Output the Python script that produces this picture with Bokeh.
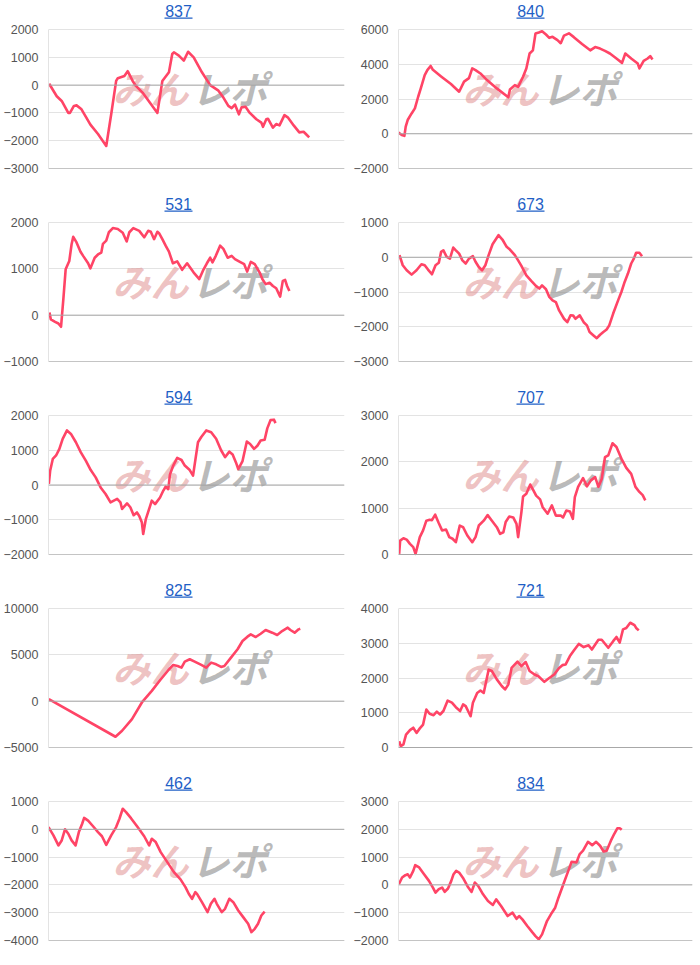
from bokeh.plotting import figure
from bokeh.layouts import gridplot
from bokeh.models import Range1d, FixedTicker, Span, Label, BoxAnnotation
from bokeh.embed import file_html
from bokeh.resources import INLINE

# ---------------- data (x = play position, y = difference in medals) ----------------
titles = ["837", "840", "531", "673", "594", "707", "825", "721", "462", "834"]

x_837 = [2, 25, 40, 60, 65, 77, 85, 100, 127, 150, 175, 190, 205, 210, 230, 240, 255, 265, 285, 330,
         345, 365, 375, 380, 395, 410, 423, 440, 465, 490, 515, 530, 545, 555, 565, 577, 585, 597, 610,
         630, 645, 650, 660, 665, 680, 690, 700, 715, 725, 743, 760, 773, 780, 790]
y_837 = [50, -400, -570, -1000, -1000, -750, -730, -870, -1420, -1760, -2190, -1050, 150, 250, 330, 500,
         150, -30, -270, -1000, 150, 460, 1120, 1180, 1060, 880, 1200, 1000, 460, 0, -200, -450, -750,
         -830, -700, -1050, -800, -780, -1000, -1230, -1350, -1500, -1230, -1210, -1530, -1400, -1450,
         -1080, -1160, -1450, -1700, -1680, -1760, -1880]

x_840 = [0, 10, 18, 22, 28, 40, 50, 60, 68, 80, 88, 98, 105, 130, 160, 185, 200, 215, 225, 235, 250,
         270, 300, 335, 340, 355, 365, 380, 390, 400, 410, 418, 428, 438, 450, 460, 470, 485, 495, 505,
         520, 535, 560, 585, 600, 615, 630, 645, 665, 682, 692, 710, 730, 735, 748, 760, 768, 775]
y_840 = [70, -70, -120, 410, 790, 1170, 1460, 2130, 2610, 3380, 3660, 3900, 3680, 3300, 2860, 2420,
         3000, 3200, 3760, 3660, 3470, 3090, 2610, 2100, 2550, 2800, 2700, 3280, 3760, 4620, 4800, 5770,
         5830, 5900, 5710, 5520, 5580, 5390, 5210, 5650, 5780, 5560, 5170, 4800, 4990, 4900, 4770, 4620,
         4330, 4080, 4620, 4330, 4040, 3760, 4190, 4330, 4470, 4280]

x_531 = [3, 7, 20, 30, 38, 45, 52, 63, 70, 75, 85, 97, 105, 120, 127, 140, 150, 160, 165, 175, 183,
         195, 210, 225, 237, 245, 257, 275, 290, 302, 310, 320, 330, 335, 345, 355, 365, 377, 390, 405,
         420, 440, 457, 468, 480, 490, 497, 507, 520, 530, 543, 555, 565, 580, 593, 602, 613, 625, 640,
         648, 658, 670, 680, 690, 702, 710, 717, 723, 730]
y_531 = [60, -90, -145, -180, -250, 345, 990, 1170, 1530, 1690, 1570, 1370, 1280, 1120, 1010, 1240,
         1310, 1350, 1540, 1610, 1790, 1880, 1860, 1780, 1590, 1790, 1880, 1820, 1680, 1820, 1800, 1640,
         1800, 1770, 1640, 1500, 1370, 1120, 1160, 980, 1120, 920, 780, 960, 1120, 1240, 1140, 1280,
         1500, 1430, 1240, 1280, 1210, 1150, 1100, 940, 1150, 1100, 920, 780, 670, 700, 630, 580, 400,
         740, 760, 630, 520]

x_673 = [3, 13, 25, 40, 55, 70, 80, 90, 102, 113, 123, 130, 137, 147, 157, 167, 175, 185, 195, 205,
         215, 227, 235, 245, 255, 265, 275, 287, 295, 305, 317, 330, 340, 355, 365, 375, 390, 405, 420,
         430, 438, 450, 460, 470, 480, 490, 505, 515, 525, 533, 540, 553, 565, 575, 583, 595, 605, 615,
         625, 635, 643, 655, 670, 680, 690, 700, 710, 718, 725, 735, 743]
y_673 = [60, -230, -375, -500, -375, -200, -230, -355, -490, -230, -160, 155, 200, 10, -40, 280, 200,
         105, -90, -180, -40, 30, -130, -280, -375, -230, 60, 375, 490, 635, 510, 300, 220, 60, -90,
         -250, -520, -680, -830, -900, -810, -920, -1140, -1240, -1290, -1530, -1770, -1870, -1670,
         -1680, -1770, -1670, -1870, -1960, -2150, -2250, -2330, -2230, -2150, -2080, -1960, -1620,
         -1240, -1000, -710, -470, -180, -40, 130, 130, 30]

x_594 = [1, 5, 13, 23, 33, 43, 56, 68, 83, 98, 113, 128, 143, 158, 173, 188, 198, 208, 218, 223, 238,
         248, 258, 268, 275, 283, 287, 295, 308, 313, 323, 338, 348, 355, 363, 368, 378, 390, 403, 413,
         428, 438, 453, 463, 478, 493, 508, 523, 535, 548, 558, 568, 575, 588, 601, 611, 623, 633, 643,
         655, 663, 673, 683, 688]
y_594 = [30, 410, 750, 850, 1040, 1330, 1570, 1470, 1230, 940, 700, 430, 220, -70, -260, -500, -450,
         -400, -500, -690, -530, -640, -870, -790, -890, -1080, -1410, -980, -600, -450, -550, -360,
         -160, -50, -120, 300, 560, 780, 720, 560, 430, 270, 1230, 1380, 1570, 1520, 1330, 1000, 800,
         960, 880, 650, 460, 690, 1250, 1180, 1040, 1130, 1280, 1300, 1630, 1870, 1880, 1780]

x_707 = [2, 5, 15, 25, 35, 45, 52, 65, 75, 85, 95, 102, 112, 122, 133, 145, 155, 165, 175, 187, 197,
         210, 225, 235, 245, 260, 272, 285, 300, 310, 320, 327, 338, 350, 360, 365, 375, 380, 390, 402,
         412, 420, 432, 440, 455, 468, 480, 495, 502, 512, 523, 532, 538, 548, 563, 575, 587, 600, 610,
         620, 630, 640, 653, 665, 680, 695, 710, 723, 735, 745, 753]
y_707 = [15, 300, 350, 320, 230, 160, 15, 375, 520, 730, 750, 740, 860, 690, 520, 540, 375, 340, 265,
         625, 590, 410, 265, 375, 625, 730, 850, 730, 590, 445, 480, 700, 820, 800, 660, 375, 915, 1250,
         1310, 1510, 1380, 1270, 1190, 1020, 880, 1060, 840, 840, 800, 950, 930, 770, 1240, 1460, 1650,
         1470, 1600, 1670, 1460, 1630, 2100, 2140, 2400, 2320, 2070, 1870, 1740, 1460, 1350, 1280, 1170]

x_825 = [1, 203, 223, 253, 283, 313, 338, 363, 378, 391, 403, 413, 428, 443, 463, 478, 493, 508, 523,
         533, 553, 573, 588, 603, 613, 628, 643, 658, 678, 693, 708, 725, 733, 746, 758, 763]
y_825 = [210, -3840, -3190, -1940, -140, 1110, 2260, 3340, 3910, 3800, 3620, 4270, 4520, 4270, 3910,
         3620, 4160, 3980, 3700, 3800, 4700, 5600, 6490, 6960, 7210, 6920, 7280, 7680, 7390, 7140, 7570,
         7930, 7680, 7390, 7750, 7820]

x_721 = [2, 7, 15, 23, 35, 45, 55, 65, 75, 85, 95, 107, 117, 127, 137, 150, 163, 175, 188, 197, 205,
         220, 227, 240, 250, 260, 275, 285, 300, 315, 325, 335, 345, 363, 375, 388, 400, 415, 427, 445,
         460, 475, 490, 500, 510, 523, 535, 550, 565, 580, 590, 610, 620, 640, 655, 665, 675, 685, 695,
         707, 720, 725, 733]
y_721 = [180, 40, 90, 370, 500, 570, 420, 550, 660, 1090, 970, 930, 1030, 950, 1050, 1350, 1290, 1160,
         1050, 1240, 1190, 900, 1290, 1570, 1640, 1570, 2240, 2200, 1960, 1770, 1670, 1810, 2290, 2470,
         2340, 2460, 2200, 2100, 2050, 1890, 2000, 2100, 2290, 2370, 2390, 2630, 2790, 2980, 2890, 2940,
         2820, 3100, 3100, 2870, 3060, 3180, 3020, 3400, 3440, 3590, 3520, 3440, 3370]

x_462 = [0, 15, 30, 40, 50, 60, 70, 82, 92, 102, 108, 120, 135, 150, 162, 175, 190, 205, 215, 225, 235,
         250, 270, 290, 305, 313, 325, 340, 360, 380, 400, 415, 425, 435, 445, 450, 465, 482, 492, 503,
         510, 525, 535, 548, 560, 575, 590, 605, 615, 625, 635, 645, 655]
y_462 = [80, -220, -580, -400, 0, -160, -400, -580, -100, 200, 410, 310, 110, -100, -250, -560, -220, 80,
         380, 740, 620, 400, 80, -250, -580, -340, -460, -820, -1180, -1540, -1800, -2080, -2320, -2500,
         -2260, -2320, -2620, -2980, -2680, -2500, -2680, -2980, -2860, -2500, -2620, -2920, -3160, -3400,
         -3700, -3580, -3400, -3100, -2960]

x_834 = [1, 11, 21, 28, 35, 45, 51, 63, 78, 93, 105, 113, 123, 133, 141, 151, 161, 168, 176, 185, 198,
         213, 223, 233, 243, 258, 273, 288, 298, 313, 323, 333, 348, 360, 368, 378, 393, 408, 418, 428,
         438, 453, 468, 478, 488, 503, 518, 528, 543, 553, 563, 578, 591, 603, 615, 626, 635, 648, 658,
         668, 675, 681]
y_834 = [25, 265, 350, 380, 265, 505, 710, 630, 385, 145, -95, -280, -155, -95, -250, -130, 145, 385,
         505, 445, 230, -95, -250, 85, -35, -340, -580, -720, -520, -760, -940, -1120, -1000, -1220,
         -1120, -1240, -1480, -1700, -1840, -1960, -1780, -1300, -1000, -820, -460, 25, 505, 830, 810,
         1110, 1230, 1550, 1430, 1550, 1410, 1200, 1230, 1590, 1830, 2040, 2040, 1980]

xs = [x_837, x_840, x_531, x_673, x_594, x_707, x_825, x_721, x_462, x_834]
ys = [y_837, y_840, y_531, y_673, y_594, y_707, y_825, y_721, y_462, y_834]

# y-axis tick labels per chart
ticks = [
    [-3000, -2000, -1000, 0, 1000, 2000],
    [-2000, 0, 2000, 4000, 6000],
    [-1000, 0, 1000, 2000],
    [-3000, -2000, -1000, 0, 1000],
    [-2000, -1000, 0, 1000, 2000],
    [0, 1000, 2000, 3000],
    [-5000, 0, 5000, 10000],
    [0, 1000, 2000, 3000, 4000],
    [-4000, -3000, -2000, -1000, 0, 1000],
    [-2000, -1000, 0, 1000, 2000, 3000],
]
x_max = 897

# ---------------- styling / layout ----------------
LINE = "#ff4466"
LINK = "#1f5fc6"
FONT = "Liberation Sans"
W, H = 350, 193
TOP, BOTTOM = 29, 25          # space above the top gridline / below the bottom gridline
FRAME_W = 299
PLOT_H = H - TOP - BOTTOM     # height between first and last gridline

figs = []
for i in range(10):
    left = 45 if i % 2 == 0 else 43
    tk = ticks[i]
    per_px = (tk[-1] - tk[0]) / PLOT_H
    p = figure(width=W, height=H, output_backend="svg", toolbar_location=None,
               x_range=Range1d(0, x_max),
               y_range=Range1d(tk[0] - BOTTOM * per_px, tk[-1] + TOP * per_px),
               min_border_left=left, min_border_right=W - left - FRAME_W,
               min_border_top=0, min_border_bottom=0)
    p.outline_line_color = None
    p.background_fill_color = "white"
    p.border_fill_color = "white"
    p.xaxis.visible = False
    p.xgrid.visible = False
    p.yaxis.ticker = FixedTicker(ticks=tk)
    p.yaxis.bounds = (tk[0], tk[-1])
    p.ygrid.ticker = FixedTicker(ticks=tk)
    p.ygrid.grid_line_color = "#e3e3e3"
    p.yaxis.axis_line_color = "#e3e3e3"
    p.yaxis.major_tick_line_color = None
    p.yaxis.minor_tick_line_color = None
    p.yaxis.major_tick_out = 0
    p.yaxis.major_label_standoff = 10
    p.yaxis.major_label_text_font = FONT
    p.yaxis.major_label_text_font_size = "12.5px"
    p.yaxis.major_label_text_color = "#555555"

    # bottom line and zero baseline
    p.add_layout(Span(location=tk[0], dimension="width", line_color="#c4c4c4", line_width=1))
    p.add_layout(Span(location=0, dimension="width", line_color="#a8a8a8", line_width=1))

    # watermark
    wy = H - 87
    p.add_layout(Label(x=64, y=wy, x_units="screen", y_units="screen", text="みん",
                       text_font="Noto Sans CJK JP", text_font_style="bold italic",
                       text_font_size="38px", text_color="#e08f8f", text_alpha=0.55,
                       text_baseline="middle", text_align="left", level="underlay"))
    p.add_layout(Label(x=143, y=wy, x_units="screen", y_units="screen", text="レポ",
                       text_font="Noto Sans CJK JP", text_font_style="bold italic",
                       text_font_size="38px", text_color="#8c8c8c", text_alpha=0.6,
                       text_baseline="middle", text_align="left", level="underlay"))

    p.line(xs[i], ys[i], line_color=LINE, line_width=2.6, line_join="round")

    # title (link style, underlined)
    cx = 175 - left
    p.add_layout(Label(x=cx, y=H - 10, x_units="screen", y_units="screen", text=titles[i],
                       text_font=FONT, text_font_size="16px", text_color=LINK,
                       text_align="center", text_baseline="alphabetic"))
    p.add_layout(BoxAnnotation(left=cx - 14, right=cx + 14, bottom=H - 18.3, top=H - 17,
                               left_units="screen", right_units="screen",
                               bottom_units="screen", top_units="screen",
                               fill_color=LINK, fill_alpha=1, line_color=None))
    figs.append(p)

grid = gridplot(figs, ncols=2, toolbar_location=None)
open("out.html", "w").write(file_html(grid, INLINE))
